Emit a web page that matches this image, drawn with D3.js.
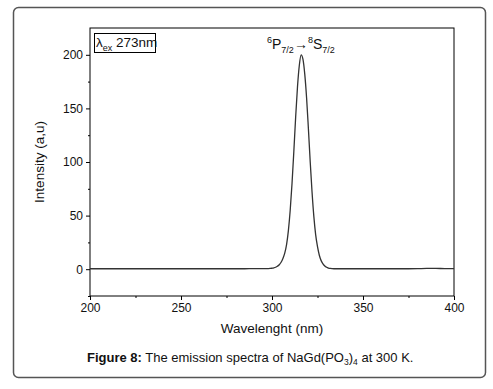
<!DOCTYPE html>
<html><head><meta charset="utf-8">
<script src="https://cdn.jsdelivr.net/npm/d3@7"></script>
<style>body{margin:0;background:#fff}svg text{font-family:"Liberation Sans",Arial,sans-serif;fill:#111}</style>
</head><body><svg id="c" width="493" height="389"></svg>
<script>
const wavelength = [200,205,210,215,220,225,230,235,240,245,250,255,260,265,270,275,280,285,290,295,
  298,299,300,301,302,303,304,305,306,307,308,309,310,311,312,313,314,315,316,317,318,319,320,321,322,323,324,325,326,327,328,329,330,331,332,333,334,336,
  340,345,350,355,360,365,370,375,380,385,390,395,400];
const intensity = [0.4,0.4,0.4,0.4,0.4,0.4,0.4,0.4,0.4,0.4,0.4,0.4,0.4,0.4,0.4,0.4,0.4,0.4,0.5,0.5,
  0.6,0.7,0.9,1.2,1.8,2.8,4.2,6.5,10,15,23,36,55,80,110,142,170,190,200,196,182,160,131,100,72,49,32,21,13,8,5,3,1.8,1.1,0.7,0.5,0.4,0.4,
  0.4,0.4,0.4,0.4,0.4,0.4,0.4,0.4,0.5,0.7,0.7,0.6,0.6];
const xTicks = [200,250,300,350,400];
const yTicks = [0,50,100,150,200];
const xMinor = [225,275,325,375];
const yMinor = [-25,25,75,125,175];

const svg = d3.select("#c");
svg.append("rect").attr("x",13.5).attr("y",7.5).attr("width",472).attr("height",370)
  .attr("rx",5).attr("fill","none").attr("stroke","#555").attr("stroke-width",1.5);

const L=90,R=454,T=28,B=296;
const x = d3.scaleLinear().domain([200,400]).range([L,R]);
const y = d3.scaleLinear().domain([-25,225]).range([B,T]);

const g = svg.append("g");
g.append("rect").attr("x",L).attr("y",T).attr("width",R-L).attr("height",B-T)
  .attr("fill","none").attr("stroke","#000").attr("stroke-width",1);

g.append("g").attr("transform",`translate(0,${B})`)
  .call(d3.axisBottom(x).tickValues(xTicks).tickSize(4).tickPadding(3));
g.append("g").attr("transform",`translate(0,${B})`)
  .call(d3.axisBottom(x).tickValues(xMinor).tickSize(2).tickFormat(""));
g.append("g").attr("transform",`translate(${L},0)`)
  .call(d3.axisLeft(y).tickValues(yTicks).tickSize(4).tickPadding(3));
g.append("g").attr("transform",`translate(${L},0)`)
  .call(d3.axisLeft(y).tickValues(yMinor).tickSize(2).tickFormat(""));
g.selectAll(".domain").remove();
g.selectAll(".tick line").attr("stroke","#000");
g.selectAll(".tick text").style("font-size","12px").attr("fill","#111")
  .style("font-family","'Liberation Sans',Arial,sans-serif");

const data = wavelength.map((w,i)=>[w,intensity[i]]);
g.append("path").datum(data)
  .attr("d", d3.line().x(d=>x(d[0])).y(d=>y(d[1])).curve(d3.curveMonotoneX))
  .attr("fill","none").attr("stroke","#333").attr("stroke-width",1.3);

svg.append("text").attr("x",272).attr("y",333).attr("text-anchor","middle")
  .style("font-size","13.5px").text("Wavelenght (nm)");
svg.append("text").attr("transform","translate(44,162) rotate(-90)").attr("text-anchor","middle")
  .style("font-size","13.5px").text("Intensity (a,u)");

svg.append("rect").attr("x",94.5).attr("y",33.5).attr("width",61).attr("height",19)
  .attr("fill","none").attr("stroke","#000").attr("stroke-width",1);
const lt = svg.append("text").attr("x",96).attr("y",47).style("font-size","13.5px");
lt.append("tspan").text("λ");
lt.append("tspan").attr("dy",4).style("font-size","9px").text("ex");
lt.append("tspan").attr("dy",-4).text(" 273nm");

const an = svg.append("text").attr("x",267).attr("y",49).style("font-size","14px");
an.append("tspan").attr("dy",-6).style("font-size","9px").text("6");
an.append("tspan").attr("dy",6).text("P");
an.append("tspan").attr("dy",4).style("font-size","9px").text("7/2");
an.append("tspan").attr("dy",-4).text("→");
an.append("tspan").attr("dy",-6).style("font-size","9px").text("8");
an.append("tspan").attr("dy",6).text("S");
an.append("tspan").attr("dy",4).style("font-size","9px").text("7/2");

const cap = svg.append("text").attr("x",87).attr("y",362).style("font-size","13px");
cap.append("tspan").style("font-weight","bold").text("Figure 8:");
cap.append("tspan").text(" The emission spectra of NaGd(PO");
cap.append("tspan").attr("dy",3).style("font-size","8.5px").text("3");
cap.append("tspan").attr("dy",-3).text(")");
cap.append("tspan").attr("dy",3).style("font-size","8.5px").text("4");
cap.append("tspan").attr("dy",-3).text(" at 300 K.");
</script></body></html>
